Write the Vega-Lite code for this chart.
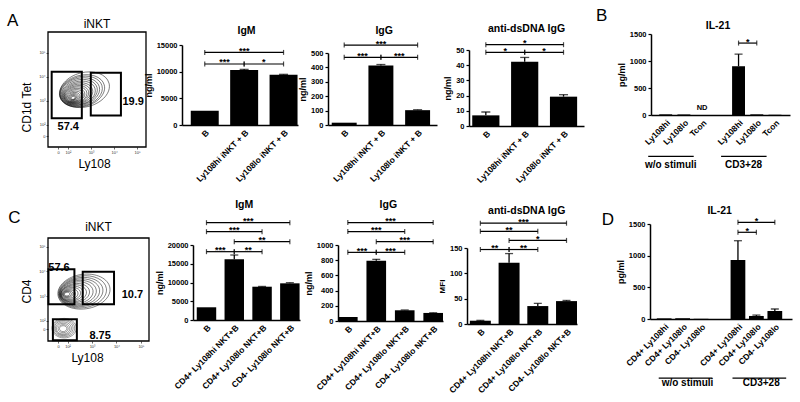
{
"$schema": "https://vega.github.io/schema/vega-lite/v6.json",
"padding": {"left": 7, "top": 6, "right": 3, "bottom": 3},
"config": {
  "font": "Liberation Sans",
  "view": {"stroke": null},
  "numberFormat": "d",
  "mark": {"color": "black"},
  "axis": {"domainColor": "black", "tickColor": "black", "labelColor": "black", "titleColor": "black", "grid": false},
  "axisX": {"labelAngle": -45, "ticks": false, "labelFontSize": 8.5, "labelFontWeight": "bold", "labelPadding": 3, "labelOverlap": false, "domainWidth": 1.5},
  "axisY": {"labelFontSize": 7.5, "labelFontWeight": "bold", "tickSize": 3, "tickWidth": 1.2, "domainWidth": 1.5, "labelPadding": 2, "titleFontSize": 9, "titleFontWeight": "bold", "titlePadding": 3},
  "title": {"fontSize": 10.5, "fontWeight": "bold", "color": "black"}
},
"datasets": {
  "igmA": [{"c":"B","v":2680},{"c":"Ly108hi iNKT + B","v":10310,"hi":10430},{"c":"Ly108lo iNKT + B","v":9430,"hi":9500}],
  "igmAbr": [
    {"c":"B","c2":"Ly108lo iNKT + B","v":13610,"s":"***","m":"Ly108hi iNKT + B","p":"c"},
    {"c":"B","c2":"Ly108hi iNKT + B","v":11440,"s":"***","m":"B","p":"b"},
    {"c":"Ly108hi iNKT + B","c2":"Ly108lo iNKT + B","v":11440,"s":"*","m":"Ly108hi iNKT + B","p":"b"}],
  "iggA": [{"c":"B","v":16},{"c":"Ly108hi iNKT + B","v":413,"hi":420},{"c":"Ly108lo iNKT + B","v":103,"hi":106}],
  "iggAbr": [
    {"c":"B","c2":"Ly108lo iNKT + B","v":555,"s":"***","m":"Ly108hi iNKT + B","p":"c"},
    {"c":"B","c2":"Ly108hi iNKT + B","v":470,"s":"***","m":"B","p":"b"},
    {"c":"Ly108hi iNKT + B","c2":"Ly108lo iNKT + B","v":470,"s":"***","m":"Ly108hi iNKT + B","p":"b"}],
  "dsA": [{"c":"B","v":7,"hi":9.2},{"c":"Ly108hi iNKT + B","v":42.3,"hi":45.1},{"c":"Ly108lo iNKT + B","v":19.3,"hi":20.6}],
  "dsAbr": [
    {"c":"B","c2":"Ly108lo iNKT + B","v":53.5,"s":"*","m":"Ly108hi iNKT + B","p":"c"},
    {"c":"B","c2":"Ly108hi iNKT + B","v":48.5,"s":"*","m":"B","p":"b"},
    {"c":"Ly108hi iNKT + B","c2":"Ly108lo iNKT + B","v":48.5,"s":"*","m":"Ly108hi iNKT + B","p":"b"}],
  "ilB": [{"c":"Ly108hi|1","v":12},{"c":"Ly108lo|1","v":10},{"c":"Ly108hi|2","v":903,"hi":1127},{"c":"Ly108lo|2","v":12},{"c":"Tcon|2","v":6}],
  "ilBbr": [{"c":"Ly108hi|2","c2":"Ly108lo|2","v":1332,"s":"*","m":"Ly108hi|2","p":"b"}],
  "ilBgrp": [
    {"c":"Ly108hi|1","c2":"Tcon|1","v":-765,"t":"w/o stimuli","v2":-975,"m":"Ly108lo|1"},
    {"c":"Ly108hi|2","c2":"Tcon|2","v":-765,"t":"CD3+28","v2":-975,"m":"Ly108lo|2"}],
  "igmC": [{"c":"B","v":3390},{"c":"CD4+ Ly108hi NKT+B","v":16180,"hi":17330},{"c":"CD4+ Ly108lo NKT+B","v":8880,"hi":8950},{"c":"CD4- Ly108lo NKT+B","v":9780,"hi":9950}],
  "igmCbr": [
    {"c":"B","c2":"CD4- Ly108lo NKT+B","v":25950,"s":"***","m":"CD4+ Ly108hi NKT+B","p":"b"},
    {"c":"B","c2":"CD4+ Ly108lo NKT+B","v":23550,"s":"***","m":"CD4+ Ly108hi NKT+B","p":"c"},
    {"c":"CD4+ Ly108hi NKT+B","c2":"CD4- Ly108lo NKT+B","v":20890,"s":"**","m":"CD4+ Ly108lo NKT+B","p":"c"},
    {"c":"B","c2":"CD4+ Ly108hi NKT+B","v":18220,"s":"***","m":"B","p":"b"},
    {"c":"CD4+ Ly108hi NKT+B","c2":"CD4+ Ly108lo NKT+B","v":18220,"s":"**","m":"CD4+ Ly108hi NKT+B","p":"b"}],
  "iggC": [{"c":"B","v":53},{"c":"CD4+ Ly108hi NKT+B","v":793,"hi":811},{"c":"CD4+ Ly108lo NKT+B","v":141,"hi":145},{"c":"CD4- Ly108lo NKT+B","v":106,"hi":108}],
  "iggCbr": [
    {"c":"B","c2":"CD4- Ly108lo NKT+B","v":1295,"s":"***","m":"CD4+ Ly108hi NKT+B","p":"b"},
    {"c":"B","c2":"CD4+ Ly108lo NKT+B","v":1176,"s":"***","m":"CD4+ Ly108hi NKT+B","p":"c"},
    {"c":"CD4+ Ly108hi NKT+B","c2":"CD4- Ly108lo NKT+B","v":1044,"s":"***","m":"CD4+ Ly108lo NKT+B","p":"c"},
    {"c":"B","c2":"CD4+ Ly108hi NKT+B","v":903,"s":"***","m":"B","p":"b"},
    {"c":"CD4+ Ly108hi NKT+B","c2":"CD4+ Ly108lo NKT+B","v":903,"s":"***","m":"CD4+ Ly108hi NKT+B","p":"b"}],
  "dsC": [{"c":"B","v":6.5,"hi":7.2},{"c":"CD4+ Ly108hi NKT+B","v":121,"hi":139},{"c":"CD4+ Ly108lo NKT+B","v":35.4,"hi":40.7},{"c":"CD4- Ly108lo NKT+B","v":45.2,"hi":46.5}],
  "dsCbr": [
    {"c":"B","c2":"CD4- Ly108lo NKT+B","v":199,"s":"***","m":"CD4+ Ly108hi NKT+B","p":"b"},
    {"c":"B","c2":"CD4+ Ly108lo NKT+B","v":183,"s":"**","m":"CD4+ Ly108hi NKT+B","p":"c"},
    {"c":"CD4+ Ly108hi NKT+B","c2":"CD4- Ly108lo NKT+B","v":165,"s":"*","m":"CD4+ Ly108lo NKT+B","p":"c"},
    {"c":"B","c2":"CD4+ Ly108hi NKT+B","v":147,"s":"**","m":"B","p":"b"},
    {"c":"CD4+ Ly108hi NKT+B","c2":"CD4+ Ly108lo NKT+B","v":147,"s":"**","m":"CD4+ Ly108hi NKT+B","p":"b"}],
  "ilD": [{"c":"CD4+ Ly108hi|1","v":10},{"c":"CD4+ Ly108lo|1","v":12},{"c":"CD4- Ly108lo|1","v":3},{"c":"CD4+ Ly108hi|2","v":932,"hi":1236},{"c":"CD4+ Ly108lo|2","v":48,"hi":62},{"c":"CD4- Ly108lo|2","v":126,"hi":158}],
  "ilDbr": [
    {"c":"CD4+ Ly108hi|2","c2":"CD4- Ly108lo|2","v":1527,"s":"*","m":"CD4+ Ly108lo|2","p":"c"},
    {"c":"CD4+ Ly108hi|2","c2":"CD4+ Ly108lo|2","v":1369,"s":"*","m":"CD4+ Ly108hi|2","p":"b"}],
  "ilDgrp": [
    {"c":"CD4+ Ly108hi|1","c2":"CD4- Ly108lo|1","v":-932,"t":"w/o stimuli","v2":-1058,"m":"CD4+ Ly108lo|1"},
    {"c":"CD4+ Ly108hi|2","c2":"CD4- Ly108lo|2","v":-932,"t":"CD3+28","v2":-1058,"m":"CD4+ Ly108lo|2"}],
  "fAframe": [{"x":1.13,"x2":5.39,"y":1.083,"y2":5.875}],
  "fAgates": [{"x":1.29,"x2":2.6,"y":2.28,"y2":4.22},{"x":2.99,"x2":4.3,"y":2.4,"y2":4.18}],
  "fAlab": [{"x":2.01,"y":1.9,"t":"57.4"},{"x":4.83,"y":2.97,"t":"19.9"}],
  "fAcont": [{"x":2.72,"y":3.47,"r":1.1},{"x":2.61,"y":3.42,"r":1.0},{"x":2.57,"y":3.4,"r":0.94},{"x":2.52,"y":3.38,"r":0.87},{"x":2.49,"y":3.36,"r":0.8},{"x":2.46,"y":3.33,"r":0.74},{"x":2.42,"y":3.31,"r":0.67},{"x":2.39,"y":3.29,"r":0.61},{"x":2.36,"y":3.27,"r":0.55},{"x":2.33,"y":3.25,"r":0.5},{"x":2.3,"y":3.23,"r":0.44},{"x":2.28,"y":3.21,"r":0.39},{"x":2.26,"y":3.19,"r":0.33},{"x":2.24,"y":3.17,"r":0.28},{"x":2.23,"y":3.16,"r":0.22},{"x":2.22,"y":3.15,"r":0.17},{"x":2.22,"y":3.14,"r":0.13},{"x":2.22,"y":3.13,"r":0.09}],
  "fCframe": [{"x":1.2,"x2":5.33,"y":1.18,"y2":5.35}],
  "fCgates": [{"x":1.22,"x2":2.28,"y":2.67,"y2":4.08},{"x":2.62,"x2":3.9,"y":2.67,"y2":3.98},{"x":1.4,"x2":2.38,"y":1.21,"y2":2.06}],
  "fClab": [{"x":1.65,"y":4.12,"t":"57.6"},{"x":4.65,"y":3.04,"t":"10.7"},{"x":3.33,"y":1.37,"t":"8.75"}],
  "fCcont": [{"x":2.67,"y":3.18,"r":1.14},{"x":2.61,"y":3.17,"r":1.05},{"x":2.55,"y":3.16,"r":0.96},{"x":2.49,"y":3.15,"r":0.88},{"x":2.43,"y":3.14,"r":0.8},{"x":2.37,"y":3.13,"r":0.72},{"x":2.31,"y":3.12,"r":0.63},{"x":2.25,"y":3.11,"r":0.56},{"x":2.18,"y":3.1,"r":0.49},{"x":2.14,"y":3.09,"r":0.42},{"x":2.1,"y":3.08,"r":0.35},{"x":2.06,"y":3.08,"r":0.28},{"x":2.02,"y":3.08,"r":0.22},{"x":2.0,"y":3.08,"r":0.17},{"x":1.98,"y":3.08,"r":0.12}],
  "fCcont2": [{"x":1.86,"y":1.7,"r":0.53},{"x":1.85,"y":1.7,"r":0.47},{"x":1.84,"y":1.7,"r":0.41},{"x":1.83,"y":1.69,"r":0.35},{"x":1.82,"y":1.68,"r":0.29},{"x":1.82,"y":1.68,"r":0.22},{"x":1.82,"y":1.68,"r":0.16}]
},
"spacing": 15,
"vconcat": [
 {"spacing": 0, "bounds": "flush", "hconcat": [
  {"width": 41, "height": 115, "data": {"values": [{"x": 0, "y": 1.165, "t": "A"}]},
   "mark": {"type": "text", "align": "left", "baseline": "top", "fontSize": 17},
   "encoding": {"x": {"field": "x", "type": "quantitative", "scale": {"domain": [0, 1]}, "axis": null},
                "y": {"field": "y", "type": "quantitative", "scale": {"domain": [0, 1]}, "axis": null},
                "text": {"field": "t"}}},
  {"width": 98, "height": 115,
   "title": {"text": "iNKT", "fontSize": 12, "fontWeight": "normal", "offset": 0},
   "encoding": {
     "x": {"field": "x", "type": "quantitative", "scale": {"domain": [1.13, 5.39], "nice": false, "zero": false},
           "axis": {"title": "Ly108", "values": [1.57, 2, 3, 4, 5], "labelExpr": "datum.value < 1.9 ? '0' : '10' + (datum.value == 2 ? '²' : datum.value == 3 ? '³' : datum.value == 4 ? '⁴' : '⁵')", "domain": false, "ticks": true, "tickSize": 2, "tickWidth": 0.6, "labelAngle": 0, "labelFontSize": 4, "labelFontWeight": "normal", "labelColor": "#333", "labelPadding": 1, "titleFontSize": 12, "titleFontWeight": "normal", "titlePadding": 4, "titleX": 46}},
     "y": {"field": "y", "type": "quantitative", "scale": {"domain": [1.083, 5.875], "nice": false, "zero": false},
           "axis": {"title": "CD1d Tet", "values": [1.54, 2, 3, 4, 5], "labelExpr": "datum.value < 1.9 ? '0' : '10' + (datum.value == 2 ? '²' : datum.value == 3 ? '³' : datum.value == 4 ? '⁴' : '⁵')", "domain": false, "tickSize": 2, "tickWidth": 0.6, "labelFontSize": 4, "labelFontWeight": "normal", "labelColor": "#333", "labelPadding": 1, "titleFontSize": 12, "titleFontWeight": "normal", "titlePadding": 5, "titleY": 75}}
   },
   "layer": [
     {"data": {"name": "fAframe"}, "mark": {"type": "rect", "filled": false, "stroke": "black", "strokeWidth": 1.3}, "encoding": {"x2": {"field": "x2"}, "y2": {"field": "y2"}}},
     {"data": {"name": "fAcont"}, "mark": {"type": "point", "shape": "M-1,0A1,0.68,0,1,0,1,0A1,0.68,0,1,0,-1,0Z", "filled": false, "stroke": "#111", "strokeWidth": 0.5, "angle": -15, "opacity": 1},
      "encoding": {"size": {"field": "r", "type": "quantitative", "scale": {"type": "pow", "exponent": 2, "domain": [0, 1], "range": [0, 2116]}, "legend": null}}},
     {"data": {"name": "fAgates"}, "mark": {"type": "rect", "filled": false, "stroke": "black", "strokeWidth": 2}, "encoding": {"x2": {"field": "x2"}, "y2": {"field": "y2"}}},
     {"data": {"name": "fAlab"}, "mark": {"type": "text", "fontSize": 11, "fontWeight": "bold"}, "encoding": {"text": {"field": "t"}}}
   ]},
  {"width": 36, "height": 1, "data": {"values": []}, "mark": "point", "encoding": {}},
  {"width": 116, "height": 93,
   "title": {"text": "IgM", "frame": "group", "offset": -4.4, "dx": 6.5},
   "encoding": {
     "x": {"field": "c", "type": "nominal", "scale": {"domain": ["B", "Ly108hi iNKT + B", "Ly108lo iNKT + B"], "paddingInner": 0.29, "paddingOuter": 0.117, "align": 0.95}, "axis": {"title": null}},
     "y": {"field": "v", "type": "quantitative", "scale": {"domain": [0, 15000], "range": [93, 13], "nice": false}, "axis": {"title": "ng/ml", "values": [0, 5000, 10000, 15000]}}
   },
   "layer": [
     {"data": {"name": "igmA"}, "mark": "bar"},
     {"data": {"name": "igmA"}, "transform": [{"filter": "isValid(datum.hi)"}], "mark": {"type": "rule", "strokeWidth": 1.3}, "encoding": {"y2": {"field": "hi"}}},
     {"data": {"name": "igmA"}, "transform": [{"filter": "isValid(datum.hi)"}], "mark": {"type": "tick", "size": 9, "thickness": 1.3}, "encoding": {"y": {"field": "hi", "type": "quantitative"}}},
     {"data": {"name": "igmAbr"}, "mark": {"type": "rule", "strokeWidth": 1.2}, "encoding": {"x": {"field": "c", "type": "nominal", "bandPosition": 0.5}, "x2": {"field": "c2", "bandPosition": 0.5}}},
     {"data": {"name": "igmAbr"}, "transform": [{"fold": ["c", "c2"], "as": ["k", "e"]}], "mark": {"type": "tick", "orient": "vertical", "size": 5, "thickness": 1.2}, "encoding": {"x": {"field": "e", "type": "nominal"}}},
     {"data": {"name": "igmAbr"}, "transform": [{"filter": "datum.p == 'c'"}], "mark": {"type": "text", "baseline": "alphabetic", "dy": 1.5, "fontSize": 9, "fontWeight": "bold"}, "encoding": {"x": {"field": "m", "type": "nominal", "bandPosition": 0.5}, "text": {"field": "s"}}},
     {"data": {"name": "igmAbr"}, "transform": [{"filter": "datum.p == 'b'"}], "mark": {"type": "text", "baseline": "alphabetic", "dy": 1.5, "fontSize": 9, "fontWeight": "bold"}, "encoding": {"x": {"field": "m", "type": "nominal", "bandPosition": 1.204}, "text": {"field": "s"}}}
   ]},
  {"width": 30, "height": 1, "data": {"values": []}, "mark": "point", "encoding": {}},
  {"width": 109, "height": 93,
   "title": {"text": "IgG", "frame": "group", "offset": -4.4, "dx": 1.7},
   "encoding": {
     "x": {"field": "c", "type": "nominal", "scale": {"domain": ["B", "Ly108hi iNKT + B", "Ly108lo iNKT + B"], "paddingInner": 0.32, "paddingOuter": 0.145, "align": 0.35}, "axis": {"title": null}},
     "y": {"field": "v", "type": "quantitative", "scale": {"domain": [0, 500], "range": [93, 21], "nice": false}, "axis": {"title": "ng/ml", "values": [0, 100, 200, 300, 400, 500]}}
   },
   "layer": [
     {"data": {"name": "iggA"}, "mark": "bar"},
     {"data": {"name": "iggA"}, "transform": [{"filter": "isValid(datum.hi)"}], "mark": {"type": "rule", "strokeWidth": 1.3}, "encoding": {"y2": {"field": "hi"}}},
     {"data": {"name": "iggA"}, "transform": [{"filter": "isValid(datum.hi)"}], "mark": {"type": "tick", "size": 9, "thickness": 1.3}, "encoding": {"y": {"field": "hi", "type": "quantitative"}}},
     {"data": {"name": "iggAbr"}, "mark": {"type": "rule", "strokeWidth": 1.2}, "encoding": {"x": {"field": "c", "type": "nominal", "bandPosition": 0.5}, "x2": {"field": "c2", "bandPosition": 0.5}}},
     {"data": {"name": "iggAbr"}, "transform": [{"fold": ["c", "c2"], "as": ["k", "e"]}], "mark": {"type": "tick", "orient": "vertical", "size": 5, "thickness": 1.2}, "encoding": {"x": {"field": "e", "type": "nominal"}}},
     {"data": {"name": "iggAbr"}, "transform": [{"filter": "datum.p == 'c'"}], "mark": {"type": "text", "baseline": "alphabetic", "dy": 1.5, "fontSize": 9, "fontWeight": "bold"}, "encoding": {"x": {"field": "m", "type": "nominal", "bandPosition": 0.5}, "text": {"field": "s"}}},
     {"data": {"name": "iggAbr"}, "transform": [{"filter": "datum.p == 'b'"}], "mark": {"type": "text", "baseline": "alphabetic", "dy": 1.5, "fontSize": 9, "fontWeight": "bold"}, "encoding": {"x": {"field": "m", "type": "nominal", "bandPosition": 1.235}, "text": {"field": "s"}}}
   ]},
  {"width": 32, "height": 1, "data": {"values": []}, "mark": "point", "encoding": {}},
  {"width": 115, "height": 94,
   "title": {"text": "anti-dsDNA IgG", "frame": "group", "offset": -2.6},
   "encoding": {
     "x": {"field": "c", "type": "nominal", "scale": {"domain": ["B", "Ly108hi iNKT + B", "Ly108lo iNKT + B"], "paddingInner": 0.3, "paddingOuter": 0.13, "align": 0.32}, "axis": {"title": null}},
     "y": {"field": "v", "type": "quantitative", "scale": {"domain": [0, 50], "range": [94, 18], "nice": false}, "axis": {"title": "ng/ml", "values": [0, 10, 20, 30, 40, 50]}}
   },
   "layer": [
     {"data": {"name": "dsA"}, "mark": "bar"},
     {"data": {"name": "dsA"}, "transform": [{"filter": "isValid(datum.hi)"}], "mark": {"type": "rule", "strokeWidth": 1.3}, "encoding": {"y2": {"field": "hi"}}},
     {"data": {"name": "dsA"}, "transform": [{"filter": "isValid(datum.hi)"}], "mark": {"type": "tick", "size": 9, "thickness": 1.3}, "encoding": {"y": {"field": "hi", "type": "quantitative"}}},
     {"data": {"name": "dsAbr"}, "mark": {"type": "rule", "strokeWidth": 1.2}, "encoding": {"x": {"field": "c", "type": "nominal", "bandPosition": 0.5}, "x2": {"field": "c2", "bandPosition": 0.5}}},
     {"data": {"name": "dsAbr"}, "transform": [{"fold": ["c", "c2"], "as": ["k", "e"]}], "mark": {"type": "tick", "orient": "vertical", "size": 5, "thickness": 1.2}, "encoding": {"x": {"field": "e", "type": "nominal"}}},
     {"data": {"name": "dsAbr"}, "transform": [{"filter": "datum.p == 'c'"}], "mark": {"type": "text", "baseline": "alphabetic", "dy": 1.5, "fontSize": 9, "fontWeight": "bold"}, "encoding": {"x": {"field": "m", "type": "nominal", "bandPosition": 0.5}, "text": {"field": "s"}}},
     {"data": {"name": "dsAbr"}, "transform": [{"filter": "datum.p == 'b'"}], "mark": {"type": "text", "baseline": "alphabetic", "dy": 1.5, "fontSize": 9, "fontWeight": "bold"}, "encoding": {"x": {"field": "m", "type": "nominal", "bandPosition": 1.214}, "text": {"field": "s"}}}
   ]},
  {"width": 67, "height": 115, "data": {"values": [{"x": 0.18, "y": 1.209, "t": "B"}]},
   "mark": {"type": "text", "align": "left", "baseline": "top", "fontSize": 17},
   "encoding": {"x": {"field": "x", "type": "quantitative", "scale": {"domain": [0, 1]}, "axis": null},
                "y": {"field": "y", "type": "quantitative", "scale": {"domain": [0, 1]}, "axis": null},
                "text": {"field": "t"}}},
  {"width": 139, "height": 83,
   "title": {"text": "IL-21", "frame": "group", "offset": -1.4, "dx": -2.5},
   "encoding": {
     "x": {"field": "c", "type": "nominal", "scale": {"domain": ["Ly108hi|1", "Ly108lo|1", "Tcon|1", " |gap", "Ly108hi|2", "Ly108lo|2", "Tcon|2"], "paddingInner": 0.29, "paddingOuter": 0.46, "align": 0.49}, "axis": {"title": null, "labelExpr": "split(datum.label, '|')[0]"}},
     "y": {"field": "v", "type": "quantitative", "scale": {"domain": [0, 1500], "range": [83, 2], "nice": false}, "axis": {"title": "pg/ml", "values": [0, 500, 1000, 1500]}}
   },
   "layer": [
     {"data": {"name": "ilB"}, "mark": "bar"},
     {"data": {"name": "ilB"}, "transform": [{"filter": "isValid(datum.hi)"}], "mark": {"type": "rule", "strokeWidth": 1.3}, "encoding": {"y2": {"field": "hi"}}},
     {"data": {"name": "ilB"}, "transform": [{"filter": "isValid(datum.hi)"}], "mark": {"type": "tick", "size": 8, "thickness": 1.3}, "encoding": {"y": {"field": "hi", "type": "quantitative"}}},
     {"data": {"name": "ilBbr"}, "mark": {"type": "rule", "strokeWidth": 1.2}, "encoding": {"x": {"field": "c", "type": "nominal", "bandPosition": 0.5}, "x2": {"field": "c2", "bandPosition": 0.5}}},
     {"data": {"name": "ilBbr"}, "transform": [{"fold": ["c", "c2"], "as": ["k", "e"]}], "mark": {"type": "tick", "orient": "vertical", "size": 5, "thickness": 1.2}, "encoding": {"x": {"field": "e", "type": "nominal"}}},
     {"data": {"name": "ilBbr"}, "mark": {"type": "text", "baseline": "alphabetic", "dy": 1.5, "fontSize": 9, "fontWeight": "bold"}, "encoding": {"x": {"field": "m", "type": "nominal", "bandPosition": 1.204}, "text": {"field": "s"}}},
     {"data": {"values": [{"c": "Tcon|1", "v": 100, "t": "ND"}]}, "mark": {"type": "text", "baseline": "alphabetic", "fontSize": 7.5, "fontWeight": "bold"}, "encoding": {"text": {"field": "t"}}},
     {"data": {"name": "ilBgrp"}, "mark": {"type": "rule", "strokeWidth": 1.3}, "encoding": {"x": {"field": "c", "type": "nominal", "bandPosition": -0.85}, "x2": {"field": "c2", "bandPosition": -0.15}}},
     {"data": {"name": "ilBgrp"}, "mark": {"type": "text", "baseline": "alphabetic", "fontSize": 10, "fontWeight": "bold"}, "encoding": {"x": {"field": "m", "type": "nominal", "bandPosition": -0.52}, "y": {"field": "v2", "type": "quantitative"}, "text": {"field": "t"}}}
   ]}
 ]},
 {"spacing": 0, "bounds": "flush", "hconcat": [
  {"width": 41, "height": 117, "data": {"values": [{"x": 0.03, "y": 1.116, "t": "C"}]},
   "mark": {"type": "text", "align": "left", "baseline": "top", "fontSize": 17},
   "encoding": {"x": {"field": "x", "type": "quantitative", "scale": {"domain": [0, 1]}, "axis": null},
                "y": {"field": "y", "type": "quantitative", "scale": {"domain": [0, 1]}, "axis": null},
                "text": {"field": "t"}}},
  {"width": 101, "height": 117,
   "title": {"text": "iNKT", "fontSize": 12, "fontWeight": "normal", "offset": -10.4},
   "encoding": {
     "x": {"field": "x", "type": "quantitative", "scale": {"domain": [1.2, 5.33], "nice": false, "zero": false},
           "axis": {"title": "Ly108", "values": [1.61, 2, 3, 4, 5], "labelExpr": "datum.value < 1.9 ? '0' : '10' + (datum.value == 2 ? '²' : datum.value == 3 ? '³' : datum.value == 4 ? '⁴' : '⁵')", "domain": false, "ticks": true, "tickSize": 2, "tickWidth": 0.6, "labelAngle": 0, "labelFontSize": 4, "labelFontWeight": "normal", "labelColor": "#333", "labelPadding": 1, "titleFontSize": 12, "titleFontWeight": "normal", "titlePadding": 4, "titleX": 39}},
     "y": {"field": "y", "type": "quantitative", "scale": {"domain": [1.18, 5.35], "range": [117, 14], "nice": false, "zero": false},
           "axis": {"title": "CD4", "values": [1.65, 2, 3, 4, 5], "labelExpr": "datum.value < 1.9 ? '0' : '10' + (datum.value == 2 ? '²' : datum.value == 3 ? '³' : datum.value == 4 ? '⁴' : '⁵')", "domain": false, "tickSize": 2, "tickWidth": 0.6, "labelFontSize": 4, "labelFontWeight": "normal", "labelColor": "#333", "labelPadding": 1, "titleFontSize": 12, "titleFontWeight": "normal", "titlePadding": 5, "titleY": 67}}
   },
   "layer": [
     {"data": {"name": "fCframe"}, "mark": {"type": "rect", "filled": false, "stroke": "black", "strokeWidth": 1.3}, "encoding": {"x2": {"field": "x2"}, "y2": {"field": "y2"}}},
     {"data": {"name": "fCcont"}, "mark": {"type": "point", "shape": "M-1,0A1,0.66,0,1,0,1,0A1,0.66,0,1,0,-1,0Z", "filled": false, "stroke": "#111", "strokeWidth": 0.5, "angle": -8, "opacity": 1},
      "encoding": {"size": {"field": "r", "type": "quantitative", "scale": {"type": "pow", "exponent": 2, "domain": [0, 1], "range": [0, 2401]}, "legend": null}}},
     {"data": {"name": "fCcont2"}, "mark": {"type": "point", "shape": "M-1,0A1,0.8,0,1,0,1,0A1,0.8,0,1,0,-1,0Z", "filled": false, "stroke": "#333", "strokeWidth": 0.5, "opacity": 1},
      "encoding": {"size": {"field": "r", "type": "quantitative", "scale": {"type": "pow", "exponent": 2, "domain": [0, 1], "range": [0, 2401]}, "legend": null}}},
     {"data": {"name": "fCgates"}, "mark": {"type": "rect", "filled": false, "stroke": "black", "strokeWidth": 2}, "encoding": {"x2": {"field": "x2"}, "y2": {"field": "y2"}}},
     {"data": {"name": "fClab"}, "mark": {"type": "text", "fontSize": 11, "fontWeight": "bold"}, "encoding": {"text": {"field": "t"}}}
   ]},
  {"width": 44, "height": 1, "data": {"values": []}, "mark": "point", "encoding": {}},
  {"width": 107, "height": 96,
   "title": {"text": "IgM", "frame": "group", "offset": 6.3, "dx": -2.3},
   "encoding": {
     "x": {"field": "c", "type": "nominal", "scale": {"domain": ["B", "CD4+ Ly108hi NKT+B", "CD4+ Ly108lo NKT+B", "CD4- Ly108lo NKT+B"], "paddingInner": 0.3, "paddingOuter": 0.075, "align": 0.9}, "axis": {"title": null}},
     "y": {"field": "v", "type": "quantitative", "scale": {"domain": [0, 20000], "range": [96, 21], "nice": false}, "axis": {"title": "ng/ml", "values": [0, 5000, 10000, 15000, 20000]}}
   },
   "layer": [
     {"data": {"name": "igmC"}, "mark": "bar"},
     {"data": {"name": "igmC"}, "transform": [{"filter": "isValid(datum.hi)"}], "mark": {"type": "rule", "strokeWidth": 1.3}, "encoding": {"y2": {"field": "hi"}}},
     {"data": {"name": "igmC"}, "transform": [{"filter": "isValid(datum.hi)"}], "mark": {"type": "tick", "size": 8, "thickness": 1.3}, "encoding": {"y": {"field": "hi", "type": "quantitative"}}},
     {"data": {"name": "igmCbr"}, "mark": {"type": "rule", "strokeWidth": 1.2}, "encoding": {"x": {"field": "c", "type": "nominal", "bandPosition": 0.5}, "x2": {"field": "c2", "bandPosition": 0.5}}},
     {"data": {"name": "igmCbr"}, "transform": [{"fold": ["c", "c2"], "as": ["k", "e"]}], "mark": {"type": "tick", "orient": "vertical", "size": 5, "thickness": 1.2}, "encoding": {"x": {"field": "e", "type": "nominal"}}},
     {"data": {"name": "igmCbr"}, "transform": [{"filter": "datum.p == 'c'"}], "mark": {"type": "text", "baseline": "alphabetic", "dy": 1.5, "fontSize": 9, "fontWeight": "bold"}, "encoding": {"x": {"field": "m", "type": "nominal", "bandPosition": 0.5}, "text": {"field": "s"}}},
     {"data": {"name": "igmCbr"}, "transform": [{"filter": "datum.p == 'b'"}], "mark": {"type": "text", "baseline": "alphabetic", "dy": 1.5, "fontSize": 9, "fontWeight": "bold"}, "encoding": {"x": {"field": "m", "type": "nominal", "bandPosition": 1.214}, "text": {"field": "s"}}}
   ]},
  {"width": 38, "height": 1, "data": {"values": []}, "mark": "point", "encoding": {}},
  {"width": 105, "height": 97,
   "title": {"text": "IgG", "frame": "group", "offset": 6.3, "dx": -2.2},
   "encoding": {
     "x": {"field": "c", "type": "nominal", "scale": {"domain": ["B", "CD4+ Ly108hi NKT+B", "CD4+ Ly108lo NKT+B", "CD4- Ly108lo NKT+B"], "paddingInner": 0.31, "paddingOuter": 0, "align": 0.5}, "axis": {"title": null}},
     "y": {"field": "v", "type": "quantitative", "scale": {"domain": [0, 1000], "range": [97, 21], "nice": false}, "axis": {"title": "ng/ml", "values": [0, 200, 400, 600, 800, 1000]}}
   },
   "layer": [
     {"data": {"name": "iggC"}, "mark": "bar"},
     {"data": {"name": "iggC"}, "transform": [{"filter": "isValid(datum.hi)"}], "mark": {"type": "rule", "strokeWidth": 1.3}, "encoding": {"y2": {"field": "hi"}}},
     {"data": {"name": "iggC"}, "transform": [{"filter": "isValid(datum.hi)"}], "mark": {"type": "tick", "size": 8, "thickness": 1.3}, "encoding": {"y": {"field": "hi", "type": "quantitative"}}},
     {"data": {"name": "iggCbr"}, "mark": {"type": "rule", "strokeWidth": 1.2}, "encoding": {"x": {"field": "c", "type": "nominal", "bandPosition": 0.5}, "x2": {"field": "c2", "bandPosition": 0.5}}},
     {"data": {"name": "iggCbr"}, "transform": [{"fold": ["c", "c2"], "as": ["k", "e"]}], "mark": {"type": "tick", "orient": "vertical", "size": 5, "thickness": 1.2}, "encoding": {"x": {"field": "e", "type": "nominal"}}},
     {"data": {"name": "iggCbr"}, "transform": [{"filter": "datum.p == 'c'"}], "mark": {"type": "text", "baseline": "alphabetic", "dy": 1.5, "fontSize": 9, "fontWeight": "bold"}, "encoding": {"x": {"field": "m", "type": "nominal", "bandPosition": 0.5}, "text": {"field": "s"}}},
     {"data": {"name": "iggCbr"}, "transform": [{"filter": "datum.p == 'b'"}], "mark": {"type": "text", "baseline": "alphabetic", "dy": 1.5, "fontSize": 9, "fontWeight": "bold"}, "encoding": {"x": {"field": "m", "type": "nominal", "bandPosition": 1.225}, "text": {"field": "s"}}}
   ]},
  {"width": 24, "height": 1, "data": {"values": []}, "mark": "point", "encoding": {}},
  {"width": 110, "height": 100,
   "title": {"text": "anti-dsDNA IgG", "frame": "group", "offset": 1.3, "dx": 4.7},
   "encoding": {
     "x": {"field": "c", "type": "nominal", "scale": {"domain": ["B", "CD4+ Ly108hi NKT+B", "CD4+ Ly108lo NKT+B", "CD4- Ly108lo NKT+B"], "paddingInner": 0.27, "paddingOuter": 0.05, "align": 1}, "axis": {"title": null}},
     "y": {"field": "v", "type": "quantitative", "scale": {"domain": [0, 150], "range": [100, 24], "nice": false}, "axis": {"title": "MFI", "titleFontSize": 8, "values": [0, 50, 100, 150]}}
   },
   "layer": [
     {"data": {"name": "dsC"}, "mark": "bar"},
     {"data": {"name": "dsC"}, "transform": [{"filter": "isValid(datum.hi)"}], "mark": {"type": "rule", "strokeWidth": 1.3}, "encoding": {"y2": {"field": "hi"}}},
     {"data": {"name": "dsC"}, "transform": [{"filter": "isValid(datum.hi)"}], "mark": {"type": "tick", "size": 8, "thickness": 1.3}, "encoding": {"y": {"field": "hi", "type": "quantitative"}}},
     {"data": {"name": "dsCbr"}, "mark": {"type": "rule", "strokeWidth": 1.2}, "encoding": {"x": {"field": "c", "type": "nominal", "bandPosition": 0.5}, "x2": {"field": "c2", "bandPosition": 0.5}}},
     {"data": {"name": "dsCbr"}, "transform": [{"fold": ["c", "c2"], "as": ["k", "e"]}], "mark": {"type": "tick", "orient": "vertical", "size": 5, "thickness": 1.2}, "encoding": {"x": {"field": "e", "type": "nominal"}}},
     {"data": {"name": "dsCbr"}, "transform": [{"filter": "datum.p == 'c'"}], "mark": {"type": "text", "baseline": "alphabetic", "dy": 1.5, "fontSize": 9, "fontWeight": "bold"}, "encoding": {"x": {"field": "m", "type": "nominal", "bandPosition": 0.5}, "text": {"field": "s"}}},
     {"data": {"name": "dsCbr"}, "transform": [{"filter": "datum.p == 'b'"}], "mark": {"type": "text", "baseline": "alphabetic", "dy": 1.5, "fontSize": 9, "fontWeight": "bold"}, "encoding": {"x": {"field": "m", "type": "nominal", "bandPosition": 1.185}, "text": {"field": "s"}}}
   ]},
  {"width": 73, "height": 117, "data": {"values": [{"x": 0.34, "y": 1.105, "t": "D"}]},
   "mark": {"type": "text", "align": "left", "baseline": "top", "fontSize": 17},
   "encoding": {"x": {"field": "x", "type": "quantitative", "scale": {"domain": [0, 1]}, "axis": null},
                "y": {"field": "y", "type": "quantitative", "scale": {"domain": [0, 1]}, "axis": null},
                "text": {"field": "t"}}},
  {"width": 142, "height": 95,
   "title": {"text": "IL-21", "frame": "group", "offset": 0.2, "dx": -1.3},
   "encoding": {
     "x": {"field": "c", "type": "nominal", "scale": {"domain": ["CD4+ Ly108hi|1", "CD4+ Ly108lo|1", "CD4- Ly108lo|1", " |gap", "CD4+ Ly108hi|2", "CD4+ Ly108lo|2", "CD4- Ly108lo|2"], "paddingInner": 0.2, "paddingOuter": 0.45, "align": 0.41}, "axis": {"title": null, "labelExpr": "split(datum.label, '|')[0]"}},
     "y": {"field": "v", "type": "quantitative", "scale": {"domain": [0, 1500], "range": [95, 0], "nice": false}, "axis": {"title": "pg/ml", "values": [0, 500, 1000, 1500]}}
   },
   "layer": [
     {"data": {"name": "ilD"}, "mark": "bar"},
     {"data": {"name": "ilD"}, "transform": [{"filter": "isValid(datum.hi)"}], "mark": {"type": "rule", "strokeWidth": 1.3}, "encoding": {"y2": {"field": "hi"}}},
     {"data": {"name": "ilD"}, "transform": [{"filter": "isValid(datum.hi)"}], "mark": {"type": "tick", "size": 8, "thickness": 1.3}, "encoding": {"y": {"field": "hi", "type": "quantitative"}}},
     {"data": {"name": "ilDbr"}, "mark": {"type": "rule", "strokeWidth": 1.2}, "encoding": {"x": {"field": "c", "type": "nominal", "bandPosition": 0.5}, "x2": {"field": "c2", "bandPosition": 0.5}}},
     {"data": {"name": "ilDbr"}, "transform": [{"fold": ["c", "c2"], "as": ["k", "e"]}], "mark": {"type": "tick", "orient": "vertical", "size": 5, "thickness": 1.2}, "encoding": {"x": {"field": "e", "type": "nominal"}}},
     {"data": {"name": "ilDbr"}, "transform": [{"filter": "datum.p == 'c'"}], "mark": {"type": "text", "baseline": "alphabetic", "dy": 1.5, "fontSize": 9, "fontWeight": "bold"}, "encoding": {"x": {"field": "m", "type": "nominal", "bandPosition": 0.5}, "text": {"field": "s"}}},
     {"data": {"name": "ilDbr"}, "transform": [{"filter": "datum.p == 'b'"}], "mark": {"type": "text", "baseline": "alphabetic", "dy": 1.5, "fontSize": 9, "fontWeight": "bold"}, "encoding": {"x": {"field": "m", "type": "nominal", "bandPosition": 1.125}, "text": {"field": "s"}}},
     {"data": {"name": "ilDgrp"}, "mark": {"type": "rule", "strokeWidth": 1.3}, "encoding": {"x": {"field": "c", "type": "nominal", "bandPosition": 0.13}, "x2": {"field": "c2", "bandPosition": 1.27}}},
     {"data": {"name": "ilDgrp"}, "mark": {"type": "text", "baseline": "alphabetic", "fontSize": 10, "fontWeight": "bold"}, "encoding": {"x": {"field": "m", "type": "nominal", "bandPosition": 0.83}, "y": {"field": "v2", "type": "quantitative"}, "text": {"field": "t"}}}
   ]}
 ]}
]
}
